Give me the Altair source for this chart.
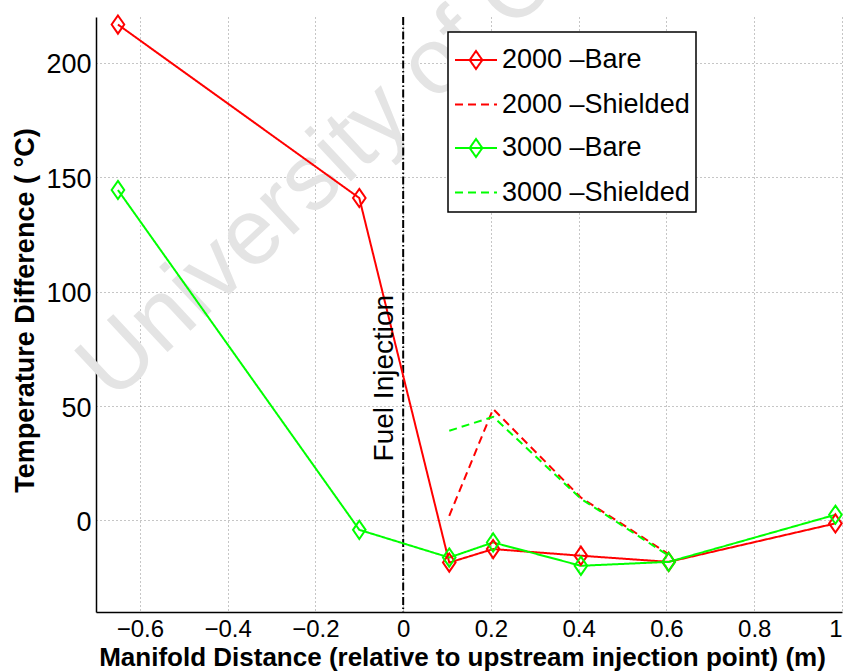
import altair as alt
import pandas as pd

# ---- data ----
series_names = ["2000 –Bare", "2000 –Shielded", "3000 –Bare", "3000 –Shielded"]
series_colors = ["#ff0000", "#ff0000", "#00ff00", "#00ff00"]

x_bare = [-0.65, -0.10, 0.105, 0.205, 0.405, 0.605, 0.985]
y_2000_bare = [216.7, 140.9, -18.4, -12.5, -15.4, -18.1, -1.3]
y_3000_bare = [144.4, -4.1, -16.2, -9.6, -19.8, -18.1, 2.5]

x_shielded = [0.105, 0.205, 0.405, 0.605]
y_2000_shielded = [2.0, 48.7, 10.0, -14.7]
y_3000_shielded = [39.2, 45.3, 9.5, -15.4]

x_ticks = [-0.6, -0.4, -0.2, 0, 0.2, 0.4, 0.6, 0.8, 1]
y_ticks = [0, 50, 100, 150, 200]
injection_x = [0.0]
annotation_text = ["Fuel Injection"]
watermark_text = ["University of Cape Town"]

rows = []
for name, xs, ys in [
    (series_names[0], x_bare, y_2000_bare),
    (series_names[1], x_shielded, y_2000_shielded),
    (series_names[2], x_bare, y_3000_bare),
    (series_names[3], x_shielded, y_3000_shielded),
]:
    for i, (xv, yv) in enumerate(zip(xs, ys)):
        rows.append({"series": name, "x": xv, "y": yv, "i": i,
                     "bare": "Bare" in name})
df = pd.DataFrame(rows)

FONT = "Liberation Sans"

x_scale = alt.Scale(domain=[-0.7, 1.0], nice=False, zero=False)
y_scale = alt.Scale(domain=[-40, 220], nice=False, zero=False)

dash_solid = [1, 0]
dash_dashed = [8, 5]
color_scale = alt.Scale(domain=series_names, range=series_colors)
stroke_scale = alt.Scale(domain=series_names, range=series_colors)
dash_scale = alt.Scale(domain=series_names,
                       range=[dash_solid, dash_dashed, dash_solid, dash_dashed])

legend_bare_path = "M-1,0L1,0M0,-0.43L0.3,0L0,0.43L-0.3,0Z"
legend_line_path = "M-1,0L1,0"
shape_scale = alt.Scale(domain=series_names,
                        range=[legend_bare_path, legend_line_path,
                               legend_bare_path, legend_line_path])
marker_path = "M0,-1.3L0.9,0L0,1.3L-0.9,0Z"

x_axis = alt.Axis(
    values=x_ticks, format="~g",
    labelExpr="datum.value < 0 ? datum.label + '\u00a0\u00a0' : datum.label",
    title="Manifold Distance (relative to upstream injection point) (m)",
    labelFontSize=24, labelPadding=24, labelBaseline="alphabetic",
    titleFontSize=26,
    titleX=366, titleY=53, titleBaseline="alphabetic", titleAlign="center",
)
y_axis = alt.Axis(
    values=y_ticks, format="d",
    title="Temperature Difference ( °C)",
    labelFontSize=27, labelPadding=5, labelOffset=2,
    titleFontSize=27,
    titleX=-63, titleY=293, titleBaseline="alphabetic", titleAlign="center",
    titleAngle=270,
)

X = alt.X("x:Q", scale=x_scale, axis=x_axis)
Y = alt.Y("y:Q", scale=y_scale, axis=y_axis)

legend_spec = alt.Legend(
    title=None, orient="none", legendX=352, legendY=15,
    symbolSize=1764, symbolStrokeWidth=2,
    labelFont=FONT, labelFontSize=27, labelColor="black", labelOffset=4,
    labelLimit=400, padding=6, rowPadding=8.5,
    strokeColor="black", fillColor="white",
)

watermark = alt.Chart(pd.DataFrame({"t": watermark_text})).mark_text(
    angle=317, align="left", baseline="alphabetic", font=FONT,
    fontSize=94, color="#e4e4e4",
).encode(x=alt.datum(-0.661, scale=x_scale), y=alt.datum(51.4, scale=y_scale),
         text="t:N")

lines = alt.Chart(df).mark_line(strokeWidth=2).encode(
    x=X, y=Y,
    color=alt.Color("series:N", scale=color_scale, legend=legend_spec),
    strokeDash=alt.StrokeDash("series:N", scale=dash_scale, legend=legend_spec),
    order="i:Q",
)

points = alt.Chart(df).transform_filter("datum.bare").mark_point(
    filled=False, strokeWidth=2, opacity=1, size=196, shape=marker_path,
).encode(
    x=X, y=Y,
    stroke=alt.Stroke("series:N", scale=stroke_scale, legend=None),
)

ghost = alt.Chart(df).transform_filter("datum.x > 5").mark_point(
    filled=False, strokeWidth=2, opacity=1,
).encode(
    x=X, y=Y,
    color=alt.Color("series:N", scale=color_scale, legend=legend_spec),
    shape=alt.Shape("series:N", scale=shape_scale, legend=legend_spec),
    strokeDash=alt.StrokeDash("series:N", scale=dash_scale, legend=legend_spec),
)

rule = alt.Chart(pd.DataFrame({"x": injection_x})).mark_rule(
    color="black", strokeWidth=2, strokeDash=[8, 2.5, 1.5, 2.5],
).encode(x=alt.X("x:Q", scale=x_scale))

fuel = alt.Chart(pd.DataFrame({"t": annotation_text})).mark_text(
    angle=270, align="center", baseline="alphabetic", font=FONT,
    fontSize=28, color="black",
).encode(x=alt.datum(-0.023, scale=x_scale), y=alt.datum(62.2, scale=y_scale),
         text="t:N")

chart = alt.layer(watermark, rule, lines, points, ghost, fuel).properties(
    width=746, height=595,
    autosize=alt.AutoSizeParams(type="none"),
    padding={"left": 96, "top": 17, "right": 7, "bottom": 59},
).configure_view(stroke=None).configure_axis(
    grid=True, gridColor="#8c8c8c", gridDash=[1, 3], gridWidth=1,
    domainColor="black", domainWidth=1.5, ticks=False,
    labelFont=FONT, labelColor="black",
    titleFont=FONT, titleFontWeight="bold", titleColor="black",
).configure_legend(strokeWidth=1.5)

chart.save("out.html", embed_options={"renderer": "svg", "actions": False})
